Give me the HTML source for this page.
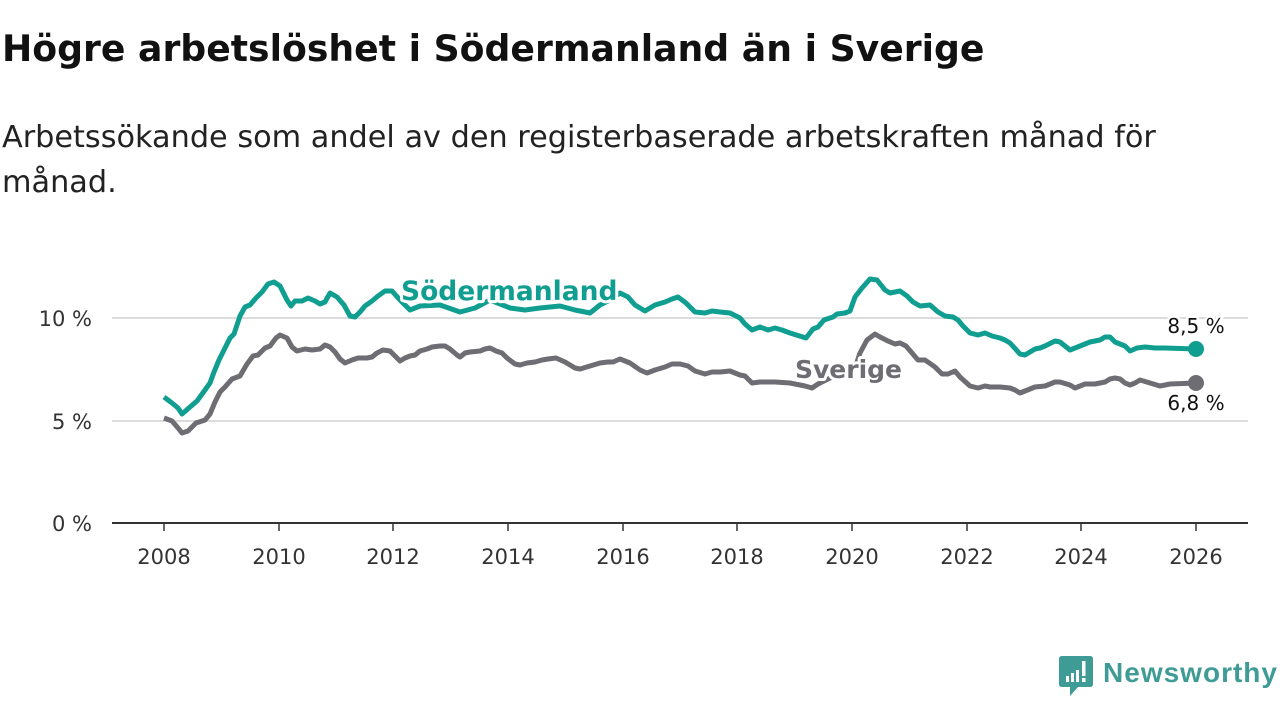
<!DOCTYPE html>
<html><head><meta charset="utf-8"><style>
body{margin:0;width:1280px;height:720px;background:#fff;overflow:hidden;font-family:"DejaVu Sans","Liberation Sans",sans-serif;color:#111}
h1{position:absolute;left:2px;top:27px;margin:0;font-size:36.2px;font-weight:bold;letter-spacing:0px}
.sub{position:absolute;left:2px;top:115px;font-size:30.3px;line-height:45px;width:1200px;color:#222}
svg{position:absolute;left:0;top:0}
</style></head><body>
<h1>Högre arbetslöshet i Södermanland än i Sverige</h1>
<div class="sub">Arbetssökande som andel av den registerbaserade arbetskraften månad för månad.</div>
<svg width="1280" height="720" font-family="DejaVu Sans, Liberation Sans, sans-serif">
<g stroke="#dcdcdc" stroke-width="2"><line x1="112" y1="318" x2="1248" y2="318"/><line x1="112" y1="421" x2="1248" y2="421"/></g>
<line x1="112" y1="523" x2="1248" y2="523" stroke="#333" stroke-width="2"/>
<g stroke="#333" stroke-width="1.5"><line x1="164" y1="523" x2="164" y2="531"/><line x1="279" y1="523" x2="279" y2="531"/><line x1="393" y1="523" x2="393" y2="531"/><line x1="508" y1="523" x2="508" y2="531"/><line x1="623" y1="523" x2="623" y2="531"/><line x1="737" y1="523" x2="737" y2="531"/><line x1="852" y1="523" x2="852" y2="531"/><line x1="967" y1="523" x2="967" y2="531"/><line x1="1081" y1="523" x2="1081" y2="531"/><line x1="1196" y1="523" x2="1196" y2="531"/></g>
<g font-size="21" fill="#333" text-anchor="middle"><text x="164" y="564">2008</text><text x="279" y="564">2010</text><text x="393" y="564">2012</text><text x="508" y="564">2014</text><text x="623" y="564">2016</text><text x="737" y="564">2018</text><text x="852" y="564">2020</text><text x="967" y="564">2022</text><text x="1081" y="564">2024</text><text x="1196" y="564">2026</text></g>
<g font-size="21" fill="#333" text-anchor="end"><text x="92" y="326">10 %</text><text x="92" y="429">5 %</text><text x="92" y="531">0 %</text></g>
<polyline fill="none" stroke="#6e6d73" stroke-width="5" stroke-linejoin="round" points="164,418 172,421 178,428 182,433 188,431 196,423 205,420 210,414 215,402 220,392 225,387 232,379 240,376 247,364 253,356 258,355 265,348 270,346 276,338 280,335 287,338 292,347 297,351 305,349 312,350 320,349 325,345 330,347 335,352 340,359 345,363 352,360 358,358 367,358 372,357 377,353 383,350 390,351 395,356 400,361 405,358 410,356 415,355 420,351 427,349 432,347 440,346 445,346 450,349 457,355 460,357 465,353 470,352 480,351 485,349 490,348 496,351 502,353 507,358 515,364 520,365 527,363 535,362 542,360 548,359 556,358 565,362 575,368 580,369 590,366 600,363 608,362 613,362 620,359 630,363 640,370 647,373 655,370 665,367 672,364 680,364 688,366 695,371 705,374 712,372 720,372 730,371 740,375 745,376 752,383 760,382 775,382 790,383 800,385 805,386 812,388 818,384 830,378 845,372 855,368 860,353 867,340 875,334 880,337 888,341 895,344 900,343 906,346 912,353 918,360 925,360 935,367 942,374 948,374 955,371 960,377 970,386 978,388 985,386 990,387 1000,387 1010,388 1015,390 1020,393 1030,389 1035,387 1045,386 1055,382 1060,382 1070,385 1075,388 1080,386 1085,384 1095,384 1105,382 1110,379 1115,378 1120,379 1125,383 1130,385 1135,383 1140,380 1150,383 1160,386 1170,384 1196,383"/>
<polyline fill="none" stroke="#0f9e90" stroke-width="5" stroke-linejoin="round" points="164,397 172,403 178,408 182,414 190,407 197,401 205,390 210,383 214,372 219,360 225,348 230,338 234,334 240,316 245,307 250,305 256,298 262,292 268,284 274,282 280,286 287,300 291,306 295,301 302,301 308,298 315,301 320,304 325,302 330,293 337,297 344,305 350,316 355,317 360,312 365,306 372,301 378,296 385,291 392,291 400,300 410,310 420,306 440,305 460,312 475,308 490,300 510,308 525,310 540,308 560,306 575,310 590,313 600,305 610,300 620,293 628,297 635,305 645,311 655,305 665,302 672,299 678,297 686,303 695,312 705,313 712,311 720,312 730,313 740,318 745,324 752,330 760,327 768,330 775,328 782,330 790,333 806,338 813,329 818,327 824,320 833,317 837,314 845,313 850,311 855,297 862,288 870,279 877,280 885,290 890,293 900,291 907,296 913,302 920,306 930,305 938,312 945,316 953,317 958,320 963,326 970,333 978,335 985,333 992,336 1000,338 1005,340 1010,343 1020,354 1025,355 1035,349 1040,348 1045,346 1055,341 1060,342 1070,350 1080,346 1090,342 1100,340 1105,337 1110,337 1115,342 1125,346 1130,351 1137,348 1145,347 1155,348 1165,348 1196,349"/>
<circle cx="1196" cy="349" r="8" fill="#0f9e90"/>
<circle cx="1196" cy="383" r="8" fill="#6e6d73"/>
<g font-weight="bold" stroke="#fff" stroke-width="6" paint-order="stroke" stroke-linejoin="round">
<text x="401" y="300" font-size="26.5" fill="#0f9e90">Södermanland</text>
<text x="795" y="378" font-size="25" fill="#6e6d73">Sverige</text></g>
<g font-size="20" fill="#111" text-anchor="middle" stroke="#fff" stroke-width="5" paint-order="stroke"><text x="1196" y="333">8,5 %</text><text x="1196" y="410">6,8 %</text></g>
<g transform="translate(1060,656)">
<path d="M2,0 H30 Q33,0 33,3 V28 Q33,31 30,31 H18 L10,40 V31 H2 Q-1,31 -1,28 V3 Q-1,0 2,0Z" fill="#3f9b95"/>
<g fill="#fff"><rect x="6" y="20" width="3" height="6"/><rect x="11" y="17" width="3" height="9"/><rect x="16" y="14" width="3" height="12"/><rect x="22" y="5" width="3.5" height="15"/><rect x="22" y="22" width="3.5" height="4"/></g>
<text x="43" y="26" font-size="28" font-weight="bold" fill="#3f9b95" font-family="Liberation Sans, sans-serif" textLength="174">Newsworthy</text></g>
</svg>
</body></html>
